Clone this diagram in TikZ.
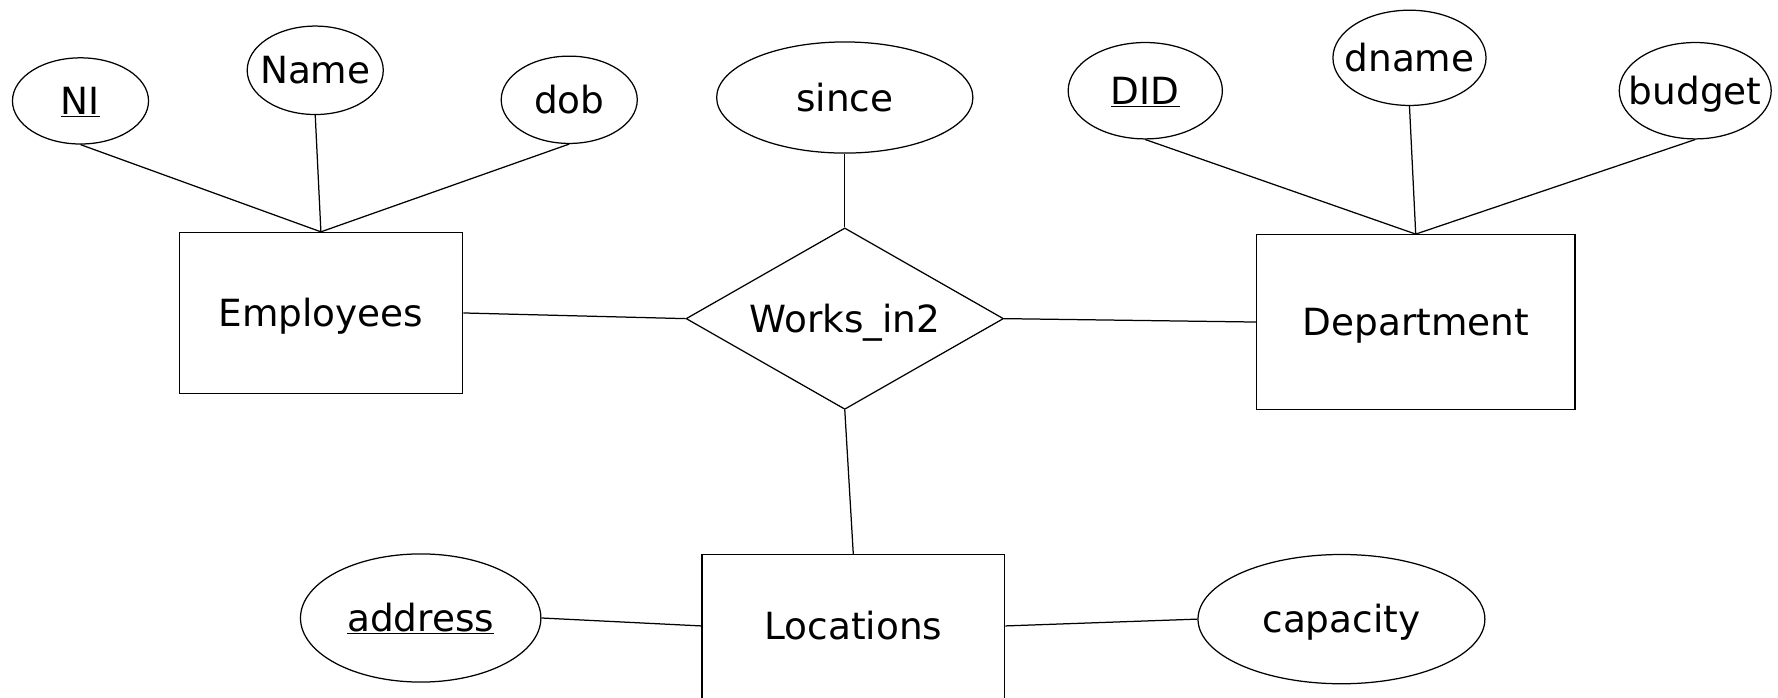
\documentclass[tikz,border=0pt]{standalone}
\usepackage{fontspec}
\setmainfont{DejaVu Sans}
\usetikzlibrary{shapes.geometric}
\begin{document}
\begin{tikzpicture}[x=1pt,y=-1pt,
  every node/.style={font=\fontsize{33}{39}\selectfont,text height=24pt,text depth=0pt},
  attr/.style={ellipse,draw,line width=1.1pt,inner xsep=-90pt,inner ysep=-30pt},
  entity/.style={rectangle,draw,line width=1.1pt,inner sep=0pt},
  relship/.style={diamond,draw,line width=1.1pt,inner sep=0pt,aspect=1.75},
  conn/.style={line width=1.1pt}]
\useasboundingbox (0,0) rectangle (1568,615);
\clip (0,0) rectangle (1568,615);
% entities
\node[entity,minimum width=250pt,minimum height=142pt] (emp) at (283,276) {Employees};
\node[entity,minimum width=281pt,minimum height=154pt] (dept) at (1248.5,284) {Department};
\node[entity,minimum width=267pt,minimum height=150pt,text height=24pt,text depth=24pt] (loc) at (752.5,564) {Locations};
% relationship
\node[relship,minimum width=280pt,minimum height=160pt] (rel) at (745,281) {Works\_in2};
% attributes
\node[attr,minimum width=120pt,minimum height=76pt] (ni) at (71,89) {\underline{NI}};
\node[attr,minimum width=120pt,minimum height=78pt] (name) at (278,62) {Name};
\node[attr,minimum width=120pt,minimum height=77pt] (dob) at (502,88) {dob};
\node[attr,minimum width=226pt,minimum height=98pt] (since) at (745,86) {since};
\node[attr,minimum width=136pt,minimum height=85pt] (did) at (1010,80) {\underline{DID}};
\node[attr,minimum width=135pt,minimum height=84pt] (dname) at (1243,51) {dname};
\node[attr,minimum width=134pt,minimum height=85pt] (budget) at (1495,80) {budget};
\node[attr,minimum width=212pt,minimum height=113pt] (address) at (371,545) {\underline{address}};
\node[attr,minimum width=253pt,minimum height=114pt] (capacity) at (1183,546) {capacity};
% connectors
\draw[conn] (ni.south) -- (emp.north);
\draw[conn] (name.south) -- (emp.north);
\draw[conn] (dob.south) -- (emp.north);
\draw[conn] (since.south) -- (rel.north);
\draw[conn] (did.south) -- (dept.north);
\draw[conn] (dname.south) -- (dept.north);
\draw[conn] (budget.south) -- (dept.north);
\draw[conn] (emp.east) -- (rel.west);
\draw[conn] (rel.east) -- (dept.west);
\draw[conn] (rel.south) -- (loc.north);
\draw[conn] (address.east) -- ([yshift=12pt]loc.west);
\draw[conn] (capacity.west) -- ([yshift=12pt]loc.east);
\end{tikzpicture}
\end{document}
